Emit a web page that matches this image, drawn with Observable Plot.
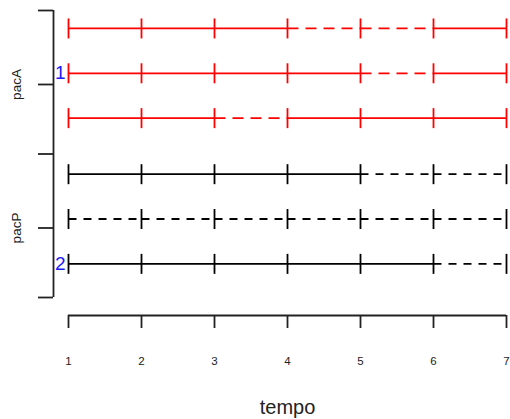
<!DOCTYPE html>
<html><head><meta charset="utf-8">
<script src="https://cdn.jsdelivr.net/npm/d3@7"></script>
<script src="https://cdn.jsdelivr.net/npm/@observablehq/plot@0.6"></script>
<style>body{margin:0;background:#fff} svg{display:block}</style>
</head><body><div id="chart"></div>
<script>
const tempo = [1, 2, 3, 4, 5, 6, 7];
const grupoLinha = ["pacA", "pacA", "pacA", "pacP", "pacP", "pacP"];
const posicaoLinha = [6.25, 5.25, 4.25, 3, 2, 1];
// 1 = solid segment (observed), 0 = dashed segment, between consecutive times
const observado = [
  [1, 1, 1, 0, 0, 1],
  [1, 1, 1, 1, 0, 1],
  [1, 1, 0, 1, 1, 1],
  [1, 1, 1, 1, 0, 0],
  [0, 0, 0, 0, 0, 0],
  [1, 1, 1, 1, 1, 0]
];
const grupos = ["pacA", "pacP"];
const posicaoGrupo = [5, 1.8];
const ticksY = [0.25, 1.8, 3.45, 5, 6.65];
const rotulos = ["1", "2"];
const linhaRotulo = [1, 5];

const cores = {pacA: "#ff0000", pacP: "#000000"};
const tracos = {pacA: "11,7", pacP: "8,7"};
const fonte = "Liberation Sans, Arial, sans-serif";

const segmentos = [];
const pontos = [];
observado.forEach((row, i) => {
  row.forEach((v, k) => segmentos.push({x1: tempo[k], x2: tempo[k + 1], y: posicaoLinha[i], grupo: grupoLinha[i], solido: v === 1}));
  tempo.forEach(t => pontos.push({t, y: posicaoLinha[i], grupo: grupoLinha[i]}));
});

const barra = {draw(ctx, size) { const r = Math.sqrt(size / Math.PI); ctx.moveTo(0, -r); ctx.lineTo(0, r); }};

const segMarks = [];
for (const g of grupos) {
  segMarks.push(Plot.link(segmentos.filter(d => d.grupo === g && d.solido), {x1: "x1", x2: "x2", y1: "y", y2: "y", stroke: cores[g], strokeWidth: 1.8}));
  segMarks.push(Plot.link(segmentos.filter(d => d.grupo === g && !d.solido), {x1: "x1", x2: "x2", y1: "y", y2: "y", stroke: cores[g], strokeWidth: 1.8, strokeDasharray: tracos[g]}));
}

const chart = Plot.plot({
  width: 510,
  height: 419,
  marginLeft: 68,
  marginRight: 4,
  marginTop: 10,
  marginBottom: 122,
  style: {fontFamily: fonte, background: "#fff"},
  x: {domain: [tempo[0], tempo[tempo.length - 1]]},
  y: {domain: [ticksY[0], ticksY[ticksY.length - 1]]},
  marks: [
    Plot.ruleY([ticksY[0]], {x1: tempo[0], x2: tempo[tempo.length - 1], dy: 18, stroke: "#222", strokeWidth: 1.8}),
    Plot.axisX({ticks: tempo, tickSize: 13, tickPadding: 28, dy: 18, fontSize: 11.5, stroke: "#222", strokeWidth: 1.8, tickFormat: d => String(d), label: null, fill: "#222"}),
    Plot.ruleX([tempo[0]], {y1: ticksY[0], y2: ticksY[ticksY.length - 1], dx: -15, stroke: "#222", strokeWidth: 1.8}),
    Plot.axisY({ticks: ticksY, tickSize: 15, dx: -15, tickFormat: () => "", label: null, stroke: "#222", strokeWidth: 1.8}),
    Plot.text(grupos, {y: (d, i) => posicaoGrupo[i], text: d => d, frameAnchor: "left", dx: -52, rotate: -90, textAnchor: "middle", fontSize: 13.5, fill: "#222"}),
    Plot.text(["tempo"], {frameAnchor: "bottom", dy: 116, lineAnchor: "bottom", fontSize: 20, fill: "#222"}),
    ...segMarks,
    Plot.dot(pontos, {x: "t", y: "y", symbol: barra, r: 10, fill: "none", stroke: d => cores[d.grupo], strokeWidth: 1.8}),
    Plot.text(rotulos, {x: tempo[0], y: (d, i) => posicaoLinha[linhaRotulo[i]], text: d => d, textAnchor: "end", dx: -3, fontSize: 19, fill: "#1a1aff"})
  ]
});
document.getElementById("chart").appendChild(chart);
</script>
</body></html>
